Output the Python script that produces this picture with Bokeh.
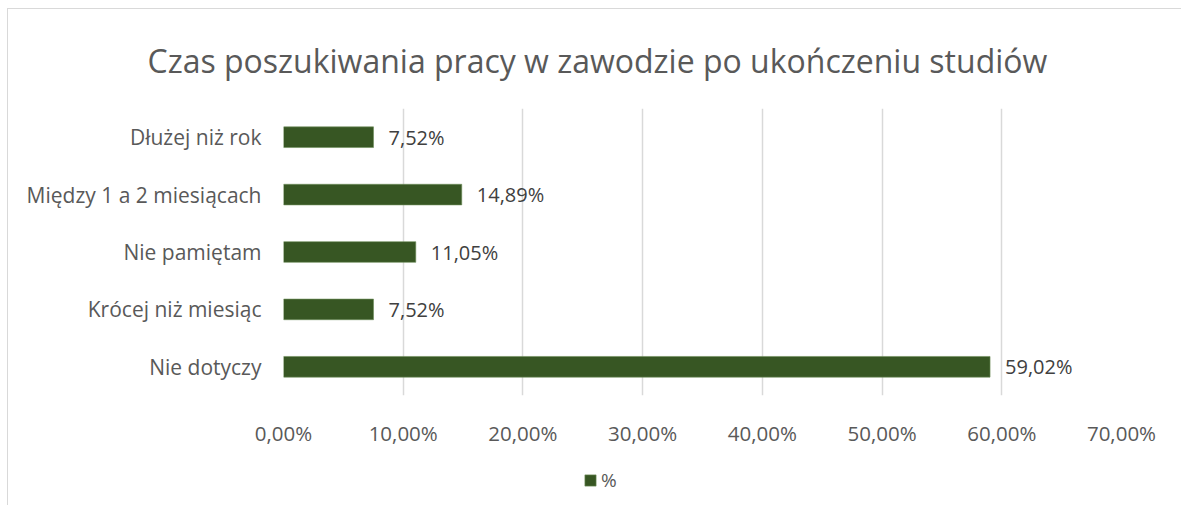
from bokeh.plotting import figure
from bokeh.layouts import column
from bokeh.models import (FactorRange, Range1d, FixedTicker, Legend, LegendItem,
                          ColumnDataSource)
from bokeh.core.properties import value
from bokeh.embed import file_html
from bokeh.resources import INLINE

# ---- data ----
categories = ["Nie dotyczy", "Krócej niż miesiąc", "Nie pamiętam",
              "Między 1 a 2 miesiącach", "Dłużej niż rok"]
values = [59.02, 7.52, 11.05, 14.89, 7.52]
tick_values = [0, 10, 20, 30, 40, 50, 60, 70]
tick_labels = ["0,00%", "10,00%", "20,00%", "30,00%", "40,00%", "50,00%", "60,00%", "70,00%"]
title_text = "Czas poszukiwania pracy w zawodzie po ukończeniu studiów"
series_name = "%"

FONT = "Open Sans"
BAR = "#375623"
BAR_LINE = "#6f8f5a"
GREY = "#595959"

W, H1, H2 = 1173, 440, 56
p = figure(width=W, height=H1, output_backend="svg", toolbar_location=None,
           y_range=FactorRange(factors=categories, range_padding=0),
           x_range=Range1d(0, 70),
           min_border_left=275, min_border_right=60, min_border_top=98,
           min_border_bottom=52)
p.outline_line_color = None
p.background_fill_color = "white"
p.border_fill_color = "white"

p.title.text = title_text
p.title.align = "left"
p.title.offset = -136
p.title.text_font = FONT
p.title.text_font_size = "32px"
p.title.text_font_style = "normal"
p.title.text_color = GREY
p.title.standoff = 54

src = ColumnDataSource(dict(cat=categories, val=values,
                            lab=[("%.2f" % v).replace(".", ",") + "%" for v in values]))
r = p.hbar(y="cat", right="val", left=0, height=0.36, source=src,
           fill_color=BAR, line_color=BAR_LINE, line_width=0.6)

p.text(x="val", y="cat", text="lab", source=src, x_offset=15,
       text_baseline="middle", text_align="left",
       text_font=value(FONT), text_font_size="20px", text_color="#404040")

# axes
p.xaxis.ticker = FixedTicker(ticks=tick_values)
p.xaxis.major_label_overrides = {t: l for t, l in zip(tick_values, tick_labels)}
p.xaxis.axis_line_color = None
p.xaxis.major_tick_line_color = None
p.xaxis.minor_tick_line_color = None
p.xaxis.major_label_standoff = 17
p.xaxis.major_label_text_font = FONT
p.xaxis.major_label_text_font_size = "20.5px"
p.xaxis.major_label_text_color = GREY

p.yaxis.axis_line_color = None
p.yaxis.major_tick_line_color = None
p.yaxis.major_label_standoff = 16
p.yaxis.major_label_text_font = FONT
p.yaxis.major_label_text_font_size = "21px"
p.yaxis.major_label_text_color = GREY

p.xgrid.grid_line_color = "#d9d9d9"
p.xgrid.grid_line_width = 1.5
p.ygrid.grid_line_color = None

# legend strip under the chart; its renderer's categories are not in this
# strip's own range, so only the legend swatch is drawn
pl = figure(width=W, height=H2, output_backend="svg", toolbar_location=None,
            x_range=Range1d(0, 70), y_range=FactorRange(factors=[series_name]),
            x_axis_type=None, y_axis_type=None,
            min_border_left=0, min_border_right=0, min_border_top=0, min_border_bottom=0)
pl.outline_line_color = None
pl.grid.visible = False
pl.border_fill_color = "white"
pl.background_fill_color = "white"
swatch = pl.hbar(y="cat", right="val", left=0, height=0.36, source=src,
                 fill_color=BAR, line_color=BAR_LINE, line_width=0.6)
leg = Legend(items=[LegendItem(label=series_name, renderers=[swatch])],
             location=(300, 12), orientation="horizontal",
             padding=0, margin=0, border_line_color=None, background_fill_alpha=0,
             glyph_width=14, glyph_height=14, label_standoff=4,
             label_text_font=FONT, label_text_font_size="19px", label_text_color=GREY)
pl.add_layout(leg, "center")

layout = column(p, pl, spacing=0, margin=(8, 0, 0, 7),
                styles={"border-top": "1px solid #d9d9d9", "border-left": "1px solid #d9d9d9"})
open("out.html", "w").write(file_html(layout, INLINE))
